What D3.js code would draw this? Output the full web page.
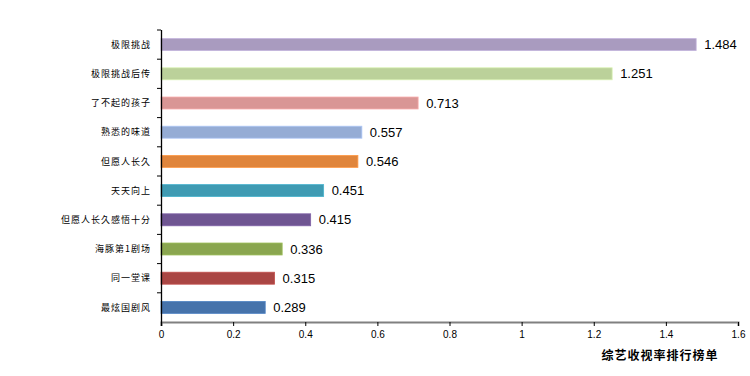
<!DOCTYPE html>
<html>
<head>
<meta charset="utf-8">
<script src="https://cdn.jsdelivr.net/npm/d3@7"></script>
<style>
  body { margin: 0; background: #fff; }
  svg { display: block; }
</style>
</head>
<body>
<div id="chart"></div>
<script>
const width = 750;
const height = 376;

const categories = ["极限挑战", "极限挑战后传", "了不起的孩子", "熟悉的味道", "但愿人长久",
    "天天向上", "但愿人长久感悟十分", "海豚第1剧场", "同一堂课", "最炫国剧风"];
const values = [1.484, 1.251, 0.713, 0.557, 0.546, 0.451, 0.415, 0.336, 0.315, 0.289];
const colors = ["#a99bbf", "#bbd19a", "#d99695", "#95acd5", "#e0853c",
    "#3f9bb3", "#6f5592", "#8aa64f", "#aa4644", "#4673ab"];
const xTicks = [0, 0.2, 0.4, 0.6, 0.8, 1, 1.2, 1.4, 1.6];
const title = "综艺收视率排行榜单";

const svg = d3.select("#chart")
    .append("svg")
    .attr("width", width)
    .attr("height", height);

const x = d3.scaleLinear()
    .domain([0, 1.6])
    .range([161, 738]);

const y = d3.scaleBand()
    .domain(categories)
    .range([30, 322])
    .paddingInner(0.59)
    .paddingOuter(0.295);

// bars
svg.append("g")
    .selectAll("rect")
    .data(values)
    .enter().append("rect")
    .attr("x", x(0))
    .attr("y", (d, i) => y(categories[i]))
    .attr("width", d => x(d) - x(0))
    .attr("height", y.bandwidth())
    .attr("fill", (d, i) => colors[i])
    .attr("stroke", (d, i) => d3.color(colors[i]).brighter(0.4))
    .attr("stroke-width", 0.8);

// value labels
svg.append("g")
    .selectAll("text")
    .data(values)
    .enter().append("text")
    .attr("x", d => x(d) + 8)
    .attr("y", (d, i) => y(categories[i]) + y.bandwidth() / 2)
    .attr("dy", "0.35em")
    .style("font-family", "'Liberation Sans', Arial, sans-serif")
    .style("font-size", "13px")
    .style("fill", "#000")
    .text(d => d3.format(".3f")(d));

// x axis
const xAxis = svg.append("g")
    .attr("transform", "translate(0,322)")
    .call(d3.axisBottom(x).tickValues(xTicks).tickSize(4).tickPadding(5)
        .tickFormat(d => String(d)));
xAxis.select(".domain").attr("stroke", "#808080").attr("stroke-width", 2);
xAxis.selectAll(".tick line").attr("stroke", "#000");
xAxis.selectAll("text")
    .style("font-family", "'Liberation Sans', Arial, sans-serif")
    .style("font-size", "10px")
    .style("fill", "#000");

// y axis: ticks at band boundaries
const yBounds = d3.range(categories.length + 1).map(i => 30 + i * (292 / categories.length));
const yAxis = svg.append("g");
yAxis.append("line")
    .attr("x1", 161.5).attr("x2", 161.5)
    .attr("y1", 30).attr("y2", 326)
    .attr("stroke", "#000")
    .attr("stroke-width", 1.3);
yAxis.selectAll(".ytick")
    .data(yBounds.slice(0, -1))
    .enter().append("line")
    .attr("class", "ytick")
    .attr("x1", 157).attr("x2", 161)
    .attr("y1", d => d).attr("y2", d => d)
    .attr("stroke", "#000");

yAxis.selectAll(".ylabel")
    .data(categories)
    .enter().append("text")
    .attr("class", "ylabel")
    .attr("x", 151)
    .attr("y", d => y(d) + y.bandwidth() / 2)
    .attr("dy", "0.35em")
    .attr("text-anchor", "end")
    .style("font-family", "'Noto Sans CJK SC', sans-serif")
    .style("font-size", "9px")
    .style("letter-spacing", "1px")
    .style("fill", "#000")
    .text(d => d);

// title
svg.append("text")
    .attr("x", 660)
    .attr("y", 356)
    .attr("dy", "0.35em")
    .attr("text-anchor", "middle")
    .style("font-family", "'Noto Sans CJK SC', sans-serif")
    .style("font-size", "12px")
    .style("font-weight", "bold")
    .style("letter-spacing", "1px")
    .style("fill", "#000")
    .text(title);
</script>
</body>
</html>
